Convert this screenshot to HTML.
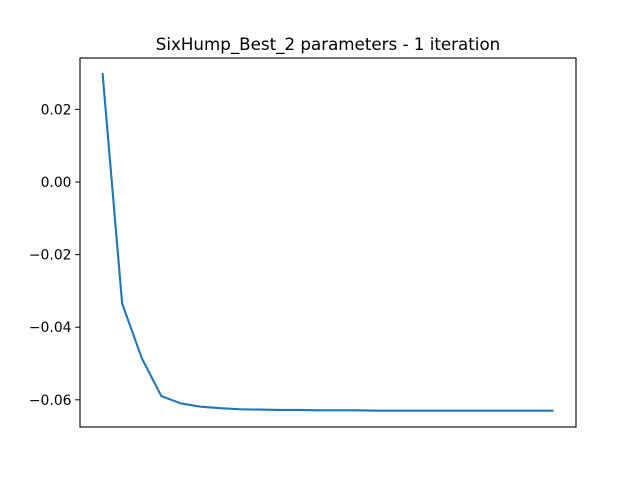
<!DOCTYPE html>
<html><head><meta charset="utf-8"><style>
body{margin:0;background:#fff}
svg{display:block;font-family:"DejaVu Sans","Liberation Sans",sans-serif}
</style></head><body>
<svg id="chart" width="640" height="480">
<rect x="0" y="0" width="640" height="480" fill="#fff"/>
<text x="328" y="50" font-size="16.7" text-anchor="middle">SixHump_Best_2 parameters - 1 iteration</text>
<g id="yticks"></g>
<path id="line" fill="none" stroke="#1f77b4" stroke-width="2.1" stroke-linejoin="round"/>
<rect x="80" y="58" width="496" height="369" fill="none" stroke="#000" stroke-width="1.1"/>
</svg>
<script>
const values = [0.030, -0.0335, -0.0485, -0.059, -0.061, -0.0619, -0.0623, -0.0626, -0.0627, -0.0628, -0.0628, -0.0629, -0.0629, -0.0629, -0.0630, -0.0630, -0.0630, -0.0630, -0.0630, -0.0630, -0.0630, -0.0630, -0.0630, -0.0630];
const yTicks = [0.02, 0.00, -0.02, -0.04, -0.06];
const yTickLabels = ["0.02", "0.00", "\u22120.02", "\u22120.04", "\u22120.06"];

const n = values.length;
const xMin = -0.05*(n-1), xMax = (n-1)*1.05;
function xs(i){ return 80 + (i - xMin)/(xMax - xMin)*496; }
function ys(v){ return 182 - v*3630; }

const ns = "http://www.w3.org/2000/svg";
const g = document.getElementById('yticks');
yTicks.forEach((t, k) => {
  const y = ys(t);
  const l = document.createElementNS(ns, 'line');
  l.setAttribute('x1', 75.1); l.setAttribute('x2', 80); l.setAttribute('y1', y); l.setAttribute('y2', y);
  l.setAttribute('stroke', '#000');
  
  
  g.appendChild(l);
  const tx = document.createElementNS(ns, 'text');
  tx.setAttribute('x', 71.5); tx.setAttribute('y', y + 5);
  tx.setAttribute('font-size', '13.9'); tx.setAttribute('text-anchor', 'end');
  tx.textContent = yTickLabels[k];
  
  
  g.appendChild(tx);
});
let d = '';
values.forEach((v, i) => { d += (i ? 'L' : 'M') + xs(i).toFixed(2) + ',' + ys(v).toFixed(2); });
document.getElementById('line').setAttribute('d', d);
</script>
</body></html>
